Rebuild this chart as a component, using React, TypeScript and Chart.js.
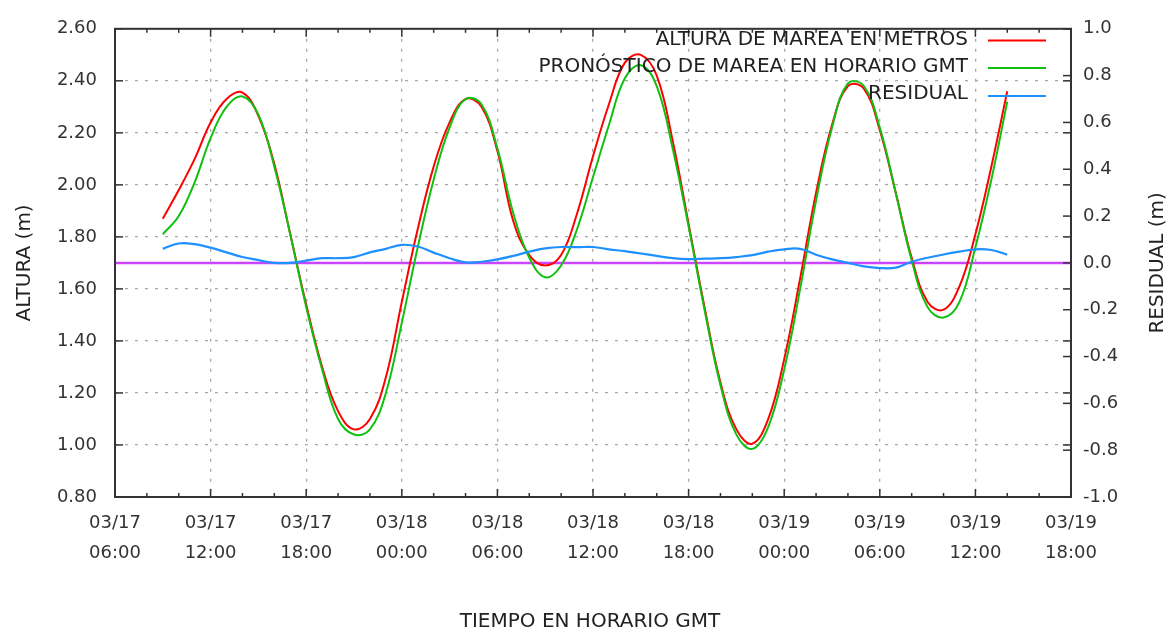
import React, { useEffect, useRef } from 'react';
import { Chart, registerables } from 'chart.js';

Chart.register(...registerables);

// hours since 03/17 06:00 GMT
const hours = [
  3, 4, 5, 6, 7, 8, 9, 10, 11, 12,
  13, 14, 15, 16, 17, 18, 19, 20, 21, 22,
  23, 24, 25, 26, 27, 28, 29, 30, 31, 32,
  33, 34, 35, 36, 37, 38, 39, 40, 41, 42,
  43, 44, 45, 46, 47, 48, 49, 50, 51, 52,
  53, 54, 55, 56,
];

const altura = [
  1.87, 1.98, 2.10, 2.24, 2.33, 2.355, 2.265, 2.08, 1.81, 1.54,
  1.30, 1.13, 1.06, 1.10, 1.26, 1.55, 1.83, 2.07, 2.24, 2.33,
  2.30, 2.13, 1.86, 1.73, 1.69, 1.73, 1.89, 2.11, 2.31, 2.47,
  2.50, 2.42, 2.17, 1.85, 1.53, 1.24, 1.06, 1.005, 1.10, 1.33,
  1.64, 1.97, 2.23, 2.38, 2.37, 2.21, 1.97, 1.72, 1.55, 1.52,
  1.61, 1.81, 2.07, 2.36,
];

const pronostico = [
  1.81, 1.88, 2.01, 2.18, 2.30, 2.34, 2.27, 2.07, 1.81, 1.53,
  1.29, 1.10, 1.04, 1.06, 1.20, 1.47, 1.76, 2.02, 2.22, 2.33,
  2.31, 2.14, 1.89, 1.72, 1.645, 1.69, 1.83, 2.03, 2.23, 2.41,
  2.46, 2.38, 2.14, 1.84, 1.52, 1.23, 1.04, 0.985, 1.07, 1.29,
  1.60, 1.94, 2.22, 2.39, 2.38, 2.22, 1.97, 1.71, 1.53, 1.49,
  1.55, 1.76, 2.02, 2.32,
];

const residual = [
  0.06, 0.083, 0.08, 0.065, 0.045, 0.025, 0.012, 0.0, 0.0, 0.01,
  0.02, 0.02, 0.025, 0.045, 0.06, 0.077, 0.07, 0.044, 0.02, 0.002,
  0.005, 0.015, 0.03, 0.048, 0.062, 0.068, 0.067, 0.068, 0.058, 0.05,
  0.04, 0.03, 0.02, 0.016, 0.018, 0.02, 0.025, 0.033, 0.048, 0.058,
  0.06, 0.035, 0.015, 0.0, -0.015, -0.022, -0.02, 0.005, 0.022, 0.036,
  0.048, 0.058, 0.055, 0.035,
];

const zeroHours = [0, 60];
const zeroValues = [0, 0];

const xTickHours = [0, 6, 12, 18, 24, 30, 36, 42, 48, 54, 60];
const tickDates = ['03/17', '03/17', '03/17', '03/18', '03/18', '03/18', '03/18', '03/19', '03/19', '03/19', '03/19'];
const tickTimes = ['06:00', '12:00', '18:00', '00:00', '06:00', '12:00', '18:00', '00:00', '06:00', '12:00', '18:00'];
const alturaTicks = [0.8, 1.0, 1.2, 1.4, 1.6, 1.8, 2.0, 2.2, 2.4, 2.6];
const residualTicks = [-1.0, -0.8, -0.6, -0.4, -0.2, 0.0, 0.2, 0.4, 0.6, 0.8, 1.0];

const legendLabels = ['ALTURA DE MAREA EN METROS', 'PRONÓSTICO DE MAREA EN HORARIO GMT', 'RESIDUAL'];
const seriesColors = ['#ff0000', '#10c010', '#1e90ff'];
const zeroColor = '#cc44ff';

const FONT = '"DejaVu Sans", sans-serif';

const pts = (xs: number[], ys: number[]) => xs.map((x, i) => ({ x, y: ys[i] }));

const framePlugin = {
  id: 'frame',
  afterDraw(chart: any) {
    const { ctx, chartArea, scales } = chart;
    const { left, right, top, bottom } = chartArea;
    const line = (x1: number, y1: number, x2: number, y2: number) => {
      ctx.beginPath();
      ctx.moveTo(x1, y1);
      ctx.lineTo(x2, y2);
      ctx.stroke();
    };
    ctx.save();
    ctx.strokeStyle = '#333';
    ctx.lineWidth = 2;
    ctx.strokeRect(left, top, right - left, bottom - top);
    ctx.lineWidth = 1.5;
    for (let h = 0; h <= 60; h += 2) {
      const px = scales.x.getPixelForValue(h);
      const len = h % 6 === 0 ? 8 : 4;
      line(px, bottom, px, bottom - len);
      line(px, top, px, top + len);
    }
    for (const v of alturaTicks) {
      const py = scales.y.getPixelForValue(v);
      line(left, py, left + 8, py);
      line(right, py, right - 8, py);
    }
    for (const v of residualTicks) {
      const py = scales.y2.getPixelForValue(v);
      line(right, py, right - 8, py);
    }

    // axis titles
    ctx.fillStyle = '#222';
    ctx.font = `20px ${FONT}`;
    ctx.textAlign = 'center';
    ctx.textBaseline = 'middle';
    const midY = (top + bottom) / 2;
    ctx.save();
    ctx.translate(25, midY);
    ctx.rotate(-Math.PI / 2);
    ctx.fillText('ALTURA (m)', 0, 0);
    ctx.restore();
    ctx.save();
    ctx.translate(1158, midY);
    ctx.rotate(-Math.PI / 2);
    ctx.fillText('RESIDUAL (m)', 0, 0);
    ctx.restore();
    ctx.fillText('TIEMPO EN HORARIO GMT', 590, 622);

    // legend
    ctx.textAlign = 'right';
    const rowsText = [40, 66.5, 94];
    const rowsLine = [40.5, 68, 96];
    legendLabels.forEach((label, i) => {
      ctx.fillStyle = '#222';
      ctx.fillText(label, 968, rowsText[i]);
      ctx.strokeStyle = seriesColors[i];
      ctx.lineWidth = 2;
      line(988, rowsLine[i], 1046, rowsLine[i]);
    });
    ctx.restore();
  },
};

export default function App() {
  const ref = useRef<HTMLCanvasElement>(null);
  useEffect(() => {
    document.body.style.margin = '0';
    const gridCommon = { color: '#a8a8a8', lineWidth: 1.3, drawTicks: false };
    const chart = new Chart(ref.current as HTMLCanvasElement, {
      type: 'line',
      data: {
        datasets: [
          {
            label: legendLabels[2],
            data: pts(hours, residual),
            yAxisID: 'y2',
            borderColor: seriesColors[2],
            borderWidth: 2.2,
            pointRadius: 0,
            tension: 0.4,
          },
          {
            label: legendLabels[1],
            data: pts(hours, pronostico),
            yAxisID: 'y',
            borderColor: seriesColors[1],
            borderWidth: 2,
            pointRadius: 0,
            tension: 0.4,
          },
          {
            label: legendLabels[0],
            data: pts(hours, altura),
            yAxisID: 'y',
            borderColor: seriesColors[0],
            borderWidth: 2,
            pointRadius: 0,
            tension: 0.4,
          },
          {
            label: 'cero',
            data: pts(zeroHours, zeroValues),
            yAxisID: 'y2',
            borderColor: zeroColor,
            borderWidth: 2.5,
            pointRadius: 0,
          },
        ],
      },
      options: {
        responsive: false,
        animation: false,
        layout: { padding: { top: 18, left: 0, right: 0, bottom: 0 } },
        plugins: { legend: { display: false }, tooltip: { enabled: false } },
        scales: {
          x: {
            type: 'linear',
            min: 0,
            max: 60,
            afterFit: (s: any) => { s.height = 139; },
            afterBuildTicks: (s: any) => { s.ticks = xTickHours.map((v) => ({ value: v })); },
            ticks: {
              autoSkip: false,
              maxRotation: 0,
              padding: 11,
              color: '#333',
              font: { family: FONT, size: 18, lineHeight: 30 / 18 },
              callback: (v: any) => {
                const i = xTickHours.indexOf(Number(v));
                return [tickDates[i], tickTimes[i]];
              },
            },
            grid: gridCommon,
            border: { display: false, dash: [3, 7] },
          },
          y: {
            position: 'left',
            min: 0.8,
            max: 2.6,
            afterFit: (s: any) => { s.width = 115; },
            afterBuildTicks: (s: any) => { s.ticks = alturaTicks.map((v) => ({ value: v })); },
            ticks: {
              padding: 18,
              color: '#333',
              font: { family: FONT, size: 18 },
              callback: (v: any) => Number(v).toFixed(2),
            },
            grid: gridCommon,
            border: { display: false, dash: [3, 7] },
          },
          y2: {
            position: 'right',
            min: -1,
            max: 1,
            afterFit: (s: any) => { s.width = 103; },
            afterBuildTicks: (s: any) => { s.ticks = residualTicks.map((v) => ({ value: v })); },
            ticks: {
              padding: 12,
              color: '#333',
              font: { family: FONT, size: 18 },
              callback: (v: any) => Number(v).toFixed(1),
            },
            grid: { display: false, drawTicks: false },
            border: { display: false },
          },
        },
      },
      plugins: [framePlugin],
    } as any);
    return () => chart.destroy();
  }, []);
  return (
    <div style={{ width: 1174, height: 636 }}>
      <canvas ref={ref} width={1174} height={636} style={{ display: 'block' }} />
    </div>
  );
}
